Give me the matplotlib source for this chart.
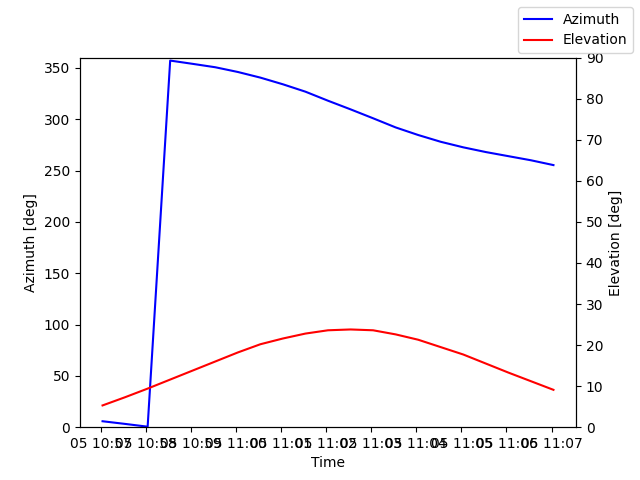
import pandas as pd
import matplotlib
matplotlib.use("Agg")
import matplotlib.pyplot as plt
import matplotlib.dates as mdates

# samples every 30 s from about 10:57:02 to 11:07:02
times = pd.date_range("2024-01-05 10:57:02.5", periods=21, freq="30s")

azimuth = [5.8, 3.2, 0.5, 357.1, 353.9, 350.6, 346.0, 340.5, 334.0, 326.8, 318.0,
           309.6, 300.9, 292.0, 284.6, 278.0, 272.6, 268.0, 264.0, 260.0, 255.3]
elevation = [5.3, 7.3, 9.4, 11.6, 13.8, 16.0, 18.2, 20.2, 21.6, 22.8, 23.6,
             23.8, 23.6, 22.6, 21.3, 19.5, 17.7, 15.5, 13.3, 11.2, 9.1]

fig, ax1 = plt.subplots(figsize=(6.4, 4.8), dpi=100)
ax1.plot(times, azimuth, color="blue", label="Azimuth")
ax1.set_xlabel("Time")
ax1.set_ylabel("Azimuth [deg]")
ax1.set_ylim(0, 360)

ax2 = ax1.twinx()
ax2.plot(times, elevation, color="red", label="Elevation")
ax2.set_ylabel("Elevation [deg]")
ax2.set_ylim(0, 90)

ax1.xaxis.set_major_locator(mdates.MinuteLocator())
ax1.xaxis.set_major_formatter(mdates.DateFormatter("%d %H:%M"))

fig.legend(loc="upper right")
fig.savefig("out.png", dpi=100)
